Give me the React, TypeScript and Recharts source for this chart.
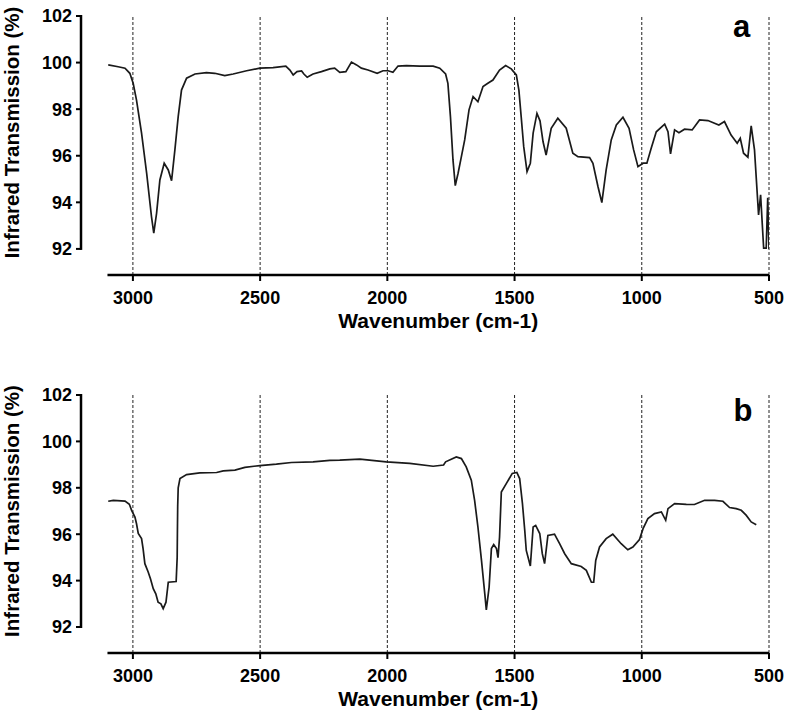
import React from 'react';
import { LineChart, Line, XAxis, YAxis, ReferenceLine } from 'recharts';

const FONT = '"Liberation Sans", Arial, Helvetica, sans-serif';

const X_TICKS = [3000, 2500, 2000, 1500, 1000, 500];
const Y_TICKS = [92, 94, 96, 98, 100, 102];
const X_TITLE = 'Wavenumber (cm-1)';
const Y_TITLE = 'Infrared Transmission (%)';

// Panel a spectrum
const wnA = [3097, 3058, 3031, 3012, 2999, 2986, 2966, 2946, 2927, 2918, 2907, 2894, 2877, 2861, 2848, 2835, 2822, 2809, 2789, 2756, 2711, 2678, 2639, 2606, 2553, 2501, 2449, 2399, 2383, 2370, 2355, 2337, 2328, 2315, 2292, 2259, 2226, 2207, 2187, 2163, 2141, 2121, 2102, 2076, 2040, 2017, 1997, 1978, 1958, 1925, 1873, 1820, 1794, 1771, 1762, 1752, 1742, 1733, 1722, 1709, 1696, 1679, 1663, 1644, 1624, 1605, 1585, 1559, 1535, 1513, 1493, 1483, 1474, 1464, 1451, 1438, 1427, 1412, 1400, 1388, 1376, 1356, 1330, 1297, 1271, 1251, 1205, 1192, 1172, 1157, 1140, 1120, 1100, 1074, 1050, 1032, 1015, 995, 980, 963, 943, 910, 897, 887, 871, 854, 832, 802, 773, 740, 697, 675, 649, 625, 613, 600, 583, 570, 557, 541, 533, 521, 511, 505, 500];
const tA = [99.9, 99.82, 99.76, 99.54, 99.11, 98.4, 96.97, 95.25, 93.39, 92.68, 93.53, 94.96, 95.68, 95.39, 94.93, 96.25, 97.68, 98.82, 99.33, 99.51, 99.57, 99.54, 99.44, 99.51, 99.65, 99.76, 99.78, 99.85, 99.68, 99.47, 99.61, 99.64, 99.51, 99.37, 99.51, 99.61, 99.73, 99.76, 99.58, 99.61, 100.02, 99.9, 99.76, 99.68, 99.54, 99.65, 99.65, 99.58, 99.85, 99.87, 99.85, 99.85, 99.76, 99.51, 99.11, 97.68, 95.82, 94.72, 95.25, 95.96, 96.68, 97.97, 98.54, 98.32, 98.97, 99.11, 99.25, 99.68, 99.87, 99.73, 99.47, 98.82, 97.68, 96.39, 95.32, 95.68, 96.97, 97.82, 97.5, 96.6, 96.03, 97.18, 97.61, 97.18, 96.11, 95.96, 95.92, 95.68, 94.67, 93.99, 95.39, 96.68, 97.32, 97.65, 97.18, 96.25, 95.53, 95.68, 95.68, 96.32, 97.03, 97.36, 97.03, 96.08, 97.11, 96.99, 97.14, 97.11, 97.54, 97.51, 97.32, 97.47, 96.89, 96.54, 96.75, 96.11, 95.94, 97.28, 96.25, 93.46, 94.32, 92.03, 92.03, 94.2, 92.0];

// Panel b spectrum
const wnB = [3097, 3077, 3031, 3014, 3005, 2992, 2986, 2979, 2966, 2960, 2953, 2940, 2931, 2920, 2910, 2901, 2890, 2881, 2870, 2861, 2830, 2826, 2825, 2824, 2822, 2815, 2789, 2737, 2671, 2645, 2599, 2560, 2501, 2436, 2377, 2292, 2226, 2187, 2108, 2004, 1912, 1820, 1779, 1771, 1729, 1709, 1690, 1670, 1657, 1644, 1630, 1617, 1611, 1600, 1591, 1582, 1571, 1565, 1559, 1552, 1532, 1509, 1491, 1480, 1469, 1460, 1454, 1438, 1427, 1417, 1401, 1391, 1382, 1369, 1343, 1323, 1303, 1277, 1238, 1218, 1198, 1189, 1181, 1166, 1140, 1114, 1081, 1055, 1035, 1009, 995, 976, 950, 923, 906, 897, 871, 825, 793, 753, 714, 681, 655, 629, 609, 590, 570, 550];
const tB = [97.42, 97.46, 97.43, 97.29, 97.03, 96.74, 96.46, 96.03, 95.81, 95.38, 94.73, 94.37, 94.08, 93.65, 93.43, 93.07, 93.0, 92.79, 93.07, 93.93, 93.96, 95.0, 96.2, 97.2, 98.0, 98.4, 98.57, 98.64, 98.66, 98.73, 98.76, 98.88, 98.96, 99.02, 99.09, 99.12, 99.18, 99.19, 99.24, 99.12, 99.05, 98.93, 98.98, 99.12, 99.33, 99.26, 98.9, 98.33, 97.46, 96.31, 94.87, 93.43, 92.74, 93.72, 95.38, 95.55, 95.38, 94.99, 95.88, 97.82, 98.19, 98.62, 98.66, 98.4, 97.32, 96.17, 95.3, 94.63, 96.31, 96.38, 96.03, 95.16, 94.73, 95.95, 96.0, 95.59, 95.16, 94.73, 94.61, 94.44, 93.93, 93.93, 94.87, 95.45, 95.81, 96.0, 95.59, 95.33, 95.45, 95.77, 96.24, 96.67, 96.89, 96.96, 96.6, 97.1, 97.32, 97.29, 97.28, 97.46, 97.46, 97.42, 97.15, 97.1, 97.03, 96.82, 96.53, 96.41];

const dataA = wnA.map((w, i) => ({ wn: w, t: tA[i] }));
const dataB = wnB.map((w, i) => ({ wn: w, t: tB[i] }));

const X_MIN = 500;
const X_MAX = 3204;
const Y_MIN = 90.88;
const Y_MAX = 102;
const Y_AXIS_LOW = 92;
const AXIS_START = 3100;

const CHART_W = 787;
const CHART_H = 345;
const PLOT_TOP = 16;
const PLOT_LEFT = 81;
const PLOT_RIGHT = 769;

type PanelProps = { data: { wn: number; t: number }[]; top: number; plotH: number };

function Panel({ data, top, plotH }: PanelProps) {
  const axisY = PLOT_TOP + plotH;
  const yLineBottom = PLOT_TOP + ((Y_MAX - Y_AXIS_LOW) / (Y_MAX - Y_MIN)) * plotH;
  const yTitleCenter = (PLOT_TOP + yLineBottom) / 2;
  const xTitleCenter = PLOT_LEFT + ((X_MAX - (AXIS_START + X_MIN) / 2) / (X_MAX - X_MIN)) * (PLOT_RIGHT - PLOT_LEFT);

  const XTitle = () => (
    <text x={xTitleCenter} y={axisY + 53} textAnchor="middle" fontSize={21} fontWeight="bold" fontFamily={FONT} fill="#000">
      {X_TITLE}
    </text>
  );
  const YTitle = () => (
    <g>
      <line x1={PLOT_LEFT} y1={PLOT_TOP - 1} x2={PLOT_LEFT} y2={yLineBottom + 1} stroke="#000" strokeWidth={2.5} />
      <text
        x={19.5}
        y={yTitleCenter}
        transform={`rotate(-90, 19.5, ${yTitleCenter})`}
        textAnchor="middle"
        fontSize={20.5}
        fontWeight="bold"
        fontFamily={FONT}
        fill="#000"
      >
        {Y_TITLE}
      </text>
    </g>
  );

  return (
    <div style={{ position: 'absolute', left: 0, top, width: CHART_W, height: CHART_H }}>
      <LineChart width={CHART_W} height={CHART_H} data={data} margin={{ top: PLOT_TOP, right: CHART_W - PLOT_RIGHT, left: 0, bottom: 0 }}>
        {X_TICKS.map((v) => (
          <ReferenceLine key={v} x={v} stroke="#222" strokeWidth={1} strokeDasharray="3 2" ifOverflow="visible" />
        ))}
        <XAxis
          type="number"
          dataKey="wn"
          domain={[X_MIN, X_MAX]}
          reversed
          allowDataOverflow
          ticks={X_TICKS}
          interval={0}
          axisLine={false}
          tickLine={{ stroke: '#000', strokeWidth: 2 }}
          tickSize={6}
          tickMargin={10}
          height={CHART_H - PLOT_TOP - plotH}
          tick={{ fill: '#000', fontSize: 18, fontWeight: 'bold', fontFamily: FONT }}
          label={XTitle}
        />
        <YAxis
          type="number"
          domain={[Y_MIN, Y_MAX]}
          allowDataOverflow
          ticks={Y_TICKS}
          interval={0}
          width={PLOT_LEFT}
          axisLine={false}
          tickLine={{ stroke: '#000', strokeWidth: 2 }}
          tickSize={5}
          tickMargin={4}
          tick={{ fill: '#000', fontSize: 18, fontWeight: 'bold', fontFamily: FONT }}
          label={YTitle}
        />
        <ReferenceLine
          segment={[{ x: AXIS_START, y: Y_MIN }, { x: X_MIN, y: Y_MIN }]}
          stroke="#000"
          strokeWidth={2.5}
          ifOverflow="visible"
        />
        <Line
          type="linear"
          dataKey="t"
          stroke="#1a1a1a"
          strokeWidth={1.7}
          dot={false}
          activeDot={false}
          isAnimationActive={false}
        />
      </LineChart>
    </div>
  );
}

export default function App() {
  return (
    <div style={{ position: 'absolute', left: 0, top: 0, width: 787, height: 716, background: '#fff', overflow: 'hidden' }}>
      <Panel data={dataA} top={0} plotH={259} />
      <Panel data={dataB} top={379} plotH={258} />
      <svg style={{ position: 'absolute', left: 0, top: 0, pointerEvents: 'none' }} width={787} height={716}>
        <text x={741.5} y={37} textAnchor="middle" fontSize={31} fontWeight="bold" fontFamily={FONT} fill="#000">a</text>
        <text x={743} y={421} textAnchor="middle" fontSize={31} fontWeight="bold" fontFamily={FONT} fill="#000">b</text>
      </svg>
    </div>
  );
}
